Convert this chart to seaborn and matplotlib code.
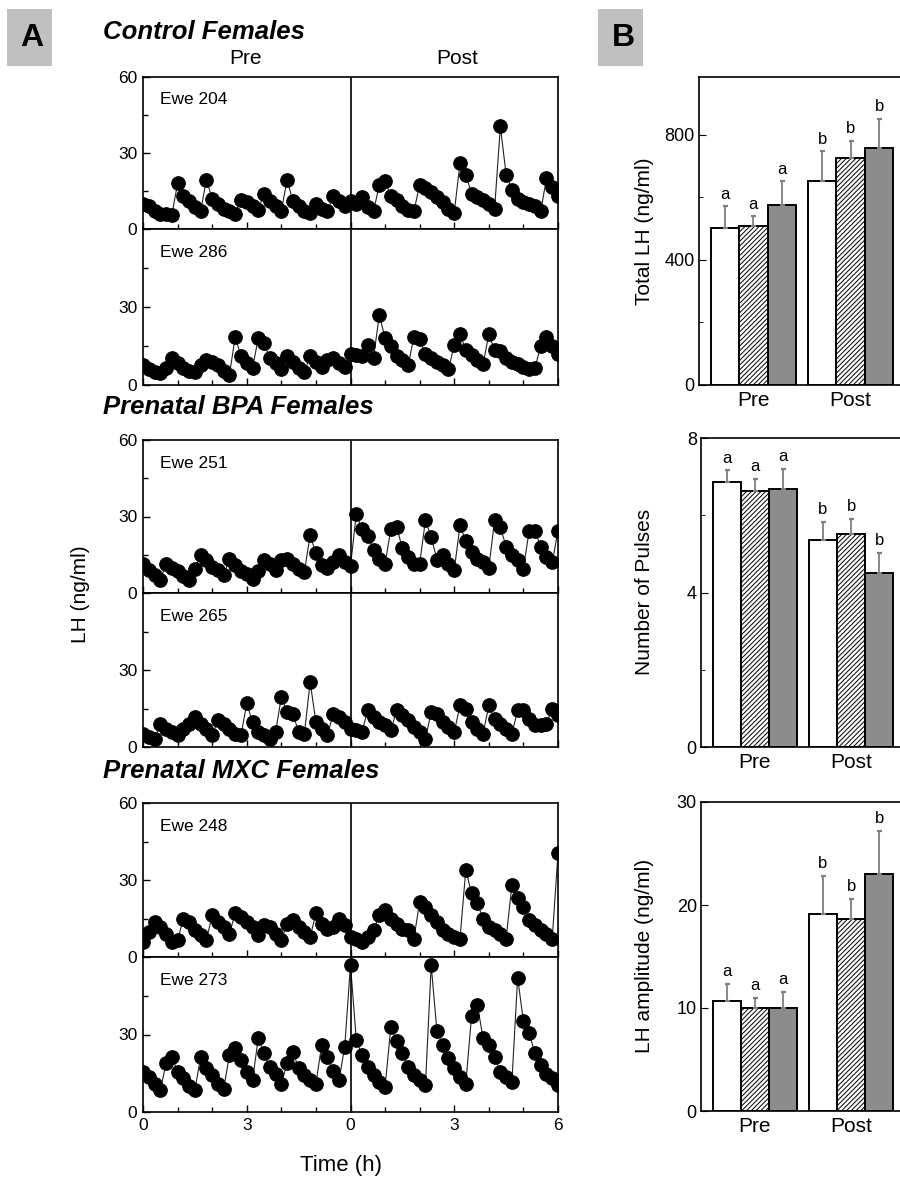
import matplotlib
matplotlib.use("Agg")
import matplotlib.pyplot as plt
import numpy as np
import pandas as pd
import seaborn as sns
from matplotlib.patches import Rectangle

# LH concentrations (ng/ml), one sample every 10 min, 6 h pre and 6 h post
SAMPLE_MIN = 10

ewe_204_pre = [10, 9, 7, 6, 6, 5.5, 18, 13, 11, 8.5, 7, 19.5, 12, 10, 8, 7, 6, 11.5,
               10.5, 9, 7.5, 14, 11, 9, 7, 19.5, 11, 9, 7, 6.5, 10, 8, 7, 13, 11, 9]
ewe_204_post = [11, 10, 12.5, 8.5, 7, 17.5, 19, 13, 11.5, 9, 7.5, 7, 17.5, 16, 14.5, 12.5,
                10.5, 8, 6.5, 26, 21.5, 14, 12.5, 11.5, 10, 8, 40.5, 21.5, 15.5, 12, 10.5,
                10, 9, 7, 20, 16.5, 13]
ewe_286_pre = [7.5, 6, 5, 4.5, 6.5, 10.5, 8.5, 6.5, 5.5, 5, 7.5, 9.5, 9, 7.5, 5.5, 4, 18.5, 11,
               8.5, 6.5, 18, 16, 10.5, 8.5, 6, 11, 9, 6.5, 5, 11, 9, 7, 9.5, 10.5, 8.5, 7]
ewe_286_post = [12, 11.5, 11, 15.5, 10.5, 27, 18, 15, 11, 9.5, 7.5, 18.5, 17.5, 12, 10.5, 9,
                7.5, 6, 15.5, 19.5, 13.5, 11.5, 9.5, 8, 19.5, 13.5, 13, 10.5, 9, 8, 7, 6,
                6.5, 15, 18.5, 15, 12]
ewe_251_pre = [11.5, 9, 7, 5, 11.5, 10, 8.5, 6.5, 5, 9.5, 14.8, 12.8, 10.2, 8.9, 7, 13.5, 11,
               8.5, 7.5, 5.5, 8.5, 12.8, 11.5, 9, 12.8, 13.5, 11.5, 9.5, 8.3, 22.7, 15.5, 11,
               10, 12, 14.8, 12]
ewe_251_post = [10.5, 31, 25, 22.5, 17, 13.5, 11.5, 25, 26, 17.5, 14, 11.5, 11.5, 28.5, 22, 13,
                15, 11.5, 9, 26.5, 20.5, 16, 13.5, 12, 10, 28.5, 26, 18, 15, 13, 9.5, 24.5,
                24.5, 18, 14, 12, 24.5]
ewe_265_pre = [5, 4, 3.2, 9, 7, 5.8, 4.5, 7, 9, 11.7, 9, 7, 4.5, 10.4, 9, 7, 5.2, 4.5, 17, 9.7,
               5.8, 4.5, 3.2, 5.8, 19.5, 13.6, 13, 5.8, 5.2, 25.3, 9.7, 7, 4.5, 13, 11.7, 9.7]
ewe_265_post = [7, 6.5, 6, 14.3, 11.7, 9.7, 8.4, 6.5, 14.3, 12.3, 10.4, 7.8, 5.8, 3.2, 13.6, 13,
                9.7, 7.8, 5.8, 16.2, 15, 9.7, 7.1, 5.2, 16.2, 11, 9.1, 7.1, 5.2, 14.3, 14.3,
                11, 8.4, 8.5, 9.1, 14.9, 12.3]
ewe_248_pre = [6, 9.8, 13.7, 11.7, 9.1, 6, 6.5, 15, 13.7, 10.4, 8.5, 6.5, 16.3, 13.7, 11.7, 9.1,
               17, 15.6, 13.7, 11.7, 8.5, 12.4, 11.7, 9.1, 6.5, 13, 14.3, 11.7, 9.8, 7.8, 17,
               13, 11.1, 11.7, 15, 12.4]
ewe_248_post = [7.8, 7.2, 5.9, 7.8, 10.4, 16.3, 18.3, 15, 13, 11.1, 10.4, 7.2, 21.5, 19.6, 16.3,
                13.7, 10.4, 9.1, 7.8, 7.2, 33.9, 24.8, 20.9, 15, 11.7, 10.4, 9.1, 7.2, 28,
                22.8, 19.6, 14.3, 12.4, 10.4, 9.1, 7.2, 40.4]
ewe_273_pre = [15.6, 13.6, 11, 8.4, 18.8, 21.4, 15.6, 13, 10, 8.4, 21.4, 17, 14.3, 11, 9, 22.1,
               24.7, 20.1, 15.6, 12.3, 28.6, 22.7, 17.5, 14.9, 11, 18.8, 23.4, 16.9, 14.3,
               12.3, 11, 26, 21.4, 16, 12.3, 25.3]
ewe_273_post = [57, 28, 22, 17.5, 14.3, 11.7, 9.7, 33, 27.3, 22.7, 17.5, 14.3, 12.3, 10.4, 56.8,
                31.2, 26, 20.8, 16.9, 13.6, 11, 37, 41.6, 28.6, 26, 21.4, 15.6, 13.6, 11.7, 52,
                35.1, 30.5, 22.7, 18.2, 14.9, 13, 10.4]

ewe_labels = ["Ewe 204", "Ewe 286", "Ewe 251", "Ewe 265", "Ewe 248", "Ewe 273"]
ewe_pre = [ewe_204_pre, ewe_286_pre, ewe_251_pre, ewe_265_pre, ewe_248_pre, ewe_273_pre]
ewe_post = [ewe_204_post, ewe_286_post, ewe_251_post, ewe_265_post, ewe_248_post, ewe_273_post]
group_titles = ["Control Females", "Prenatal BPA Females", "Prenatal MXC Females"]

# panel B: mean and SEM, order Control, BPA, MXC
periods = ["Pre", "Post"]
treatments = ["Control", "BPA", "MXC"]
total_lh_pre = [501, 507, 576]
total_lh_post = [654, 727, 759]
total_lh_pre_sem = [70, 32, 75]
total_lh_post_sem = [93, 54, 91]
pulses_pre = [6.85, 6.63, 6.68]
pulses_post = [5.35, 5.52, 4.5]
pulses_pre_sem = [0.31, 0.31, 0.52]
pulses_post_sem = [0.47, 0.39, 0.53]
amp_pre = [10.68, 10.03, 10.03]
amp_post = [19.16, 18.67, 22.98]
amp_pre_sem = [1.62, 0.97, 1.52]
amp_post_sem = [3.64, 1.93, 4.22]
sig_letters = [["a", "a", "a"], ["b", "b", "b"]]

sns.set_style("ticks")
plt.rcParams["font.family"] = ["Liberation Sans", "DejaVu Sans"]
plt.rcParams["hatch.linewidth"] = 0.7
plt.rcParams["axes.linewidth"] = 1.2
for key in ["text.color", "axes.labelcolor", "xtick.color", "ytick.color", "axes.edgecolor"]:
    plt.rcParams[key] = "black"

W, H = 900, 1178
fig = plt.figure(figsize=(W / 100, H / 100), dpi=100)


def px_axes(left, top, right, bottom):
    return fig.add_axes([left / W, 1 - bottom / H, (right - left) / W, (bottom - top) / H])


# ---- panel A: pulse profiles ----
rows = []
for ewe, pre, post in zip(ewe_labels, ewe_pre, ewe_post):
    for i, v in enumerate(pre):
        rows.append((ewe, i * SAMPLE_MIN / 60, v))
    for i, v in enumerate(post):
        rows.append((ewe, 6 + i * SAMPLE_MIN / 60, v))
df_lh = pd.DataFrame(rows, columns=["ewe", "time", "lh"])

row_px = [(77, 229), (229, 385), (440, 593), (593, 747), (803, 957), (957, 1112)]
for k, (ewe, (top, bottom)) in enumerate(zip(ewe_labels, row_px)):
    ax = px_axes(143, top, 558, bottom)
    sns.lineplot(data=df_lh[df_lh["ewe"] == ewe], x="time", y="lh", ax=ax,
                 color="#222222", linewidth=0.8, marker="o", markersize=9.8,
                 markerfacecolor="black", markeredgecolor="black",
                 estimator=None, sort=False)
    ax.axvline(6, color="black", lw=1.2)
    ax.set_xlim(0, 12)
    ax.set_ylim(0, 60)
    ax.set_xticks([0, 3, 6, 9, 12])
    ax.set_xticks(np.arange(0, 13, 1), minor=True)
    ax.set_yticks([0, 30, 60])
    ax.set_yticks([15, 45], minor=True)
    ax.set_yticklabels(["0", "30", "60"] if k % 2 == 0 else ["0", "30", ""])
    ax.set_xlabel("")
    ax.set_ylabel("")
    ax.tick_params(which="both", direction="in", top=False, right=False,
                   labelsize=12.5, pad=4, width=1)
    ax.tick_params(which="major", length=5)
    ax.tick_params(which="minor", length=3.5)
    if k == 5:
        ax.set_xticklabels(["0", "3", "0", "3", "6"])
    else:
        ax.tick_params(labelbottom=False)
    ax.text(0.041, 0.849, ewe, transform=ax.transAxes, ha="left", va="center", fontsize=12.5)

for title, y in zip(group_titles, [32, 407, 771]):
    fig.text(103 / W, 1 - y / H, title, fontsize=18.5, fontweight="bold",
             fontstyle="italic", ha="left", va="center")
fig.text(246 / W, 1 - 59 / H, "Pre", fontsize=15, ha="center", va="center")
fig.text(457 / W, 1 - 59 / H, "Post", fontsize=15, ha="center", va="center")
fig.text(80 / W, 1 - 594 / H, "LH (ng/ml)", fontsize=15, rotation=90,
         ha="center", va="center")
fig.text(341 / W, 1 - 1165 / H, "Time (h)", fontsize=16, ha="center", va="center")

# ---- panel B: bar charts ----
bar_specs = [
    ((699, 77, 905, 385), total_lh_pre, total_lh_post, total_lh_pre_sem, total_lh_post_sem,
     985, [0, 400, 800], [200, 600], "Total LH (ng/ml)", 231),
    ((701, 438, 905, 747), pulses_pre, pulses_post, pulses_pre_sem, pulses_post_sem,
     8, [0, 4, 8], [2, 6], "Number of Pulses", 592),
    ((701, 802, 905, 1111), amp_pre, amp_post, amp_pre_sem, amp_post_sem,
     30, [0, 10, 20, 30], [], "LH amplitude (ng/ml)", 956),
]

for box, pre, post, pre_e, post_e, ytop, yt, ymt, ylab, ylab_y in bar_specs:
    ax = px_axes(*box)
    d = pd.DataFrame({"period": ["Pre"] * 3 + ["Post"] * 3,
                      "group": treatments * 2,
                      "value": pre + post})
    sns.barplot(data=d, x="period", y="value", hue="group", order=periods,
                hue_order=treatments, palette=["white", "white", "#8c8c8c"],
                saturation=1, width=0.88, edgecolor="black", linewidth=1.4,
                errorbar=None, legend=False, ax=ax)
    errs = [pre_e, post_e]
    bar_groups = list(ax.containers)
    for g, cont in enumerate(bar_groups):
        for p, bar in enumerate(cont):
            if g == 1:
                bar.set_hatch("///////")
            xc = bar.get_x() + bar.get_width() / 2
            h = bar.get_height()
            e = errs[p][g]
            eb = ax.errorbar(xc, h, yerr=[[0], [e]], fmt="none", ecolor="#808080",
                             elinewidth=1.3, capsize=1.8, capthick=1.6)
            for cl in eb[1]:
                cl.set_color("black")
            ax.annotate(sig_letters[p][g], (xc, h + e), xytext=(0, 3.5),
                        textcoords="offset points", ha="center", va="bottom", fontsize=12)
    ax.set_xlim(-0.56, 1.56)
    ax.set_ylim(0, ytop)
    ax.set_yticks(yt)
    ax.set_yticks(ymt, minor=True)
    ax.set_xlabel("")
    ax.set_ylabel("")
    ax.tick_params(axis="y", which="both", direction="in", right=False, labelsize=13, pad=3)
    ax.tick_params(axis="y", which="major", length=5)
    ax.tick_params(axis="y", which="minor", length=3)
    ax.tick_params(axis="x", length=0, labelsize=15, pad=4)
    fig.text(645 / W, 1 - ylab_y / H, ylab, fontsize=15, rotation=90,
             ha="center", va="center")

# panel letters
for letter, x0 in [("A", 7), ("B", 598)]:
    fig.patches.append(Rectangle((x0 / W, 1 - 66 / H), 45 / W, 57 / H,
                                 transform=fig.transFigure, facecolor="#c0c0c0",
                                 edgecolor="none", zorder=0))
    fig.text((x0 + 25) / W, 1 - 38 / H, letter, fontsize=23, fontweight="bold",
             ha="center", va="center")

fig.savefig("out.png", dpi=100)
